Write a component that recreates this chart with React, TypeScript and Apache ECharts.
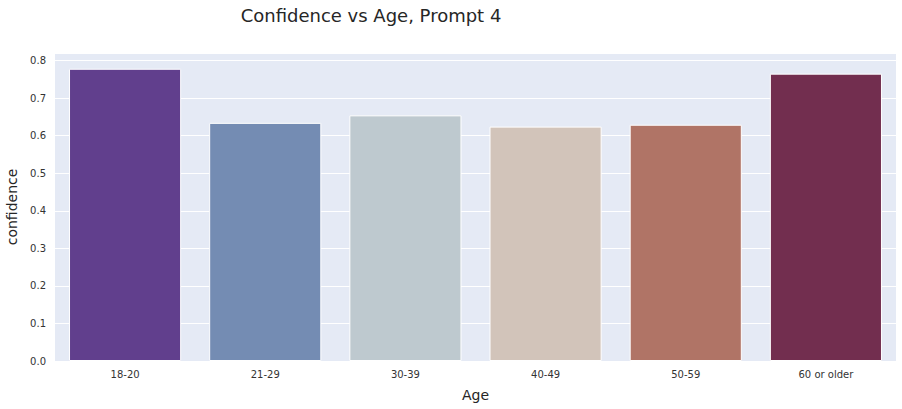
import React, { useEffect, useRef } from "react";
import * as echarts from "echarts";

const categories = ["18-20", "21-29", "30-39", "40-49", "50-59", "60 or older"];
const confidence = [0.778, 0.634, 0.654, 0.624, 0.629, 0.765];
const barColors = ["#613f8d", "#748cb3", "#bec9cf", "#d2c4ba", "#b07466", "#722e4f"];
const yTicks = [0, 0.1, 0.2, 0.3, 0.4, 0.5, 0.6, 0.7, 0.8];

export default function App() {
  const ref = useRef<HTMLDivElement>(null);
  useEffect(() => {
    if (!ref.current) return;
    const chart = echarts.init(ref.current, undefined, { renderer: "svg" });
    const font = "DejaVu Sans";
    chart.setOption({
      animation: false,
      backgroundColor: "#ffffff",
      title: {
        text: "Confidence vs Age, Prompt 4",
        left: 366,
        textAlign: "center",
        top: 1,
        textStyle: { fontFamily: font, fontSize: 18, fontWeight: "normal", color: "#262626" },
      },
      grid: {
        left: 55,
        right: 6,
        top: 53,
        bottom: 48,
        show: true,
        backgroundColor: "#e5eaf5",
        borderWidth: 0,
        containLabel: false,
        outerBoundsMode: "none",
      },
      xAxis: {
        type: "category",
        data: categories,
        name: "Age",
        nameLocation: "middle",
        nameGap: 27,
        nameTextStyle: { fontFamily: font, fontSize: 14, color: "#262626" },
        axisLine: { show: false },
        axisTick: { show: false },
        axisLabel: { fontFamily: font, fontSize: 10, color: "#333333", margin: 8 },
        splitLine: { show: false },
      },
      yAxis: {
        type: "value",
        min: 0,
        max: 0.82,
        interval: 0.1,
        name: "confidence",
        nameLocation: "middle",
        nameGap: 36,
        nameTextStyle: { fontFamily: font, fontSize: 14, color: "#262626" },
        axisLine: { show: false },
        axisTick: { show: false },
        axisLabel: {
          fontFamily: font,
          fontSize: 10,
          color: "#333333",
          margin: 9,
          formatter: (v: number) => (yTicks.some((t) => Math.abs(t - v) < 1e-6) ? v.toFixed(1) : ""),
        },
        splitLine: { show: true, lineStyle: { color: "#ffffff", width: 1 } },
      },
      series: [
        {
          type: "bar",
          barWidth: "80%",
          data: confidence.map((v, i) => ({
            value: v,
            itemStyle: { color: barColors[i], borderColor: "#ffffff", borderWidth: 1 },
          })),
        },
      ],
    });
    return () => chart.dispose();
  }, []);
  return <div ref={ref} style={{ width: 902, height: 409, position: "absolute", left: 0, top: 0 }} />;
}
